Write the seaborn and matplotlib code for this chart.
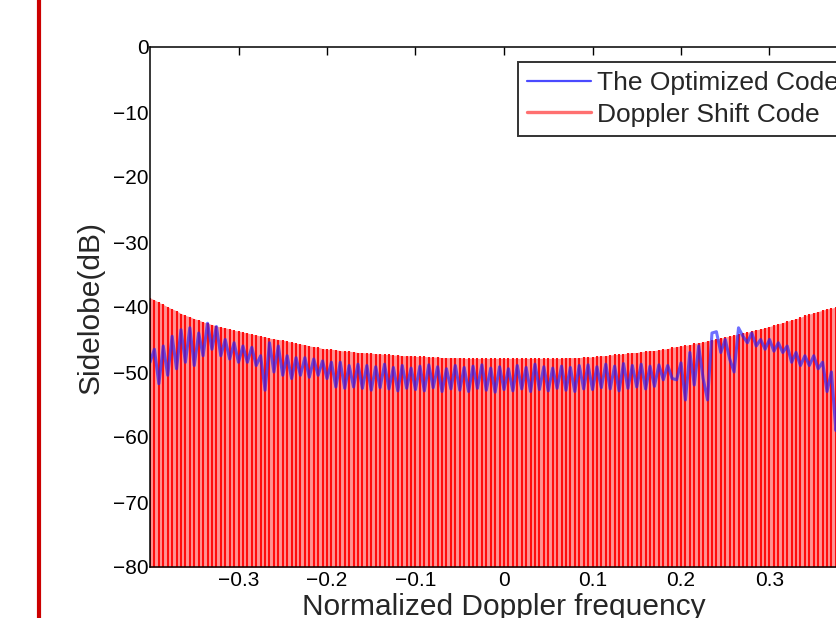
import numpy as np
import pandas as pd
import seaborn as sns
import matplotlib.pyplot as plt
from matplotlib.lines import Line2D

# normalized Doppler frequency grid, step 0.005 from -0.4 to 0.4
freq = np.round(np.linspace(-0.4, 0.4, 161), 3)

# Doppler Shift Code: sidelobe peak envelope (dB)
doppler_shift = [
    -38.6, -38.9, -39.3, -39.6, -40.0, -40.3, -40.6, -41.0, -41.3, -41.5,
    -41.8, -42.0, -42.3, -42.5, -42.7, -42.9, -43.1, -43.2, -43.4, -43.6,
    -43.7, -43.9, -44.0, -44.2, -44.3, -44.5, -44.6, -44.8, -44.9, -45.0,
    -45.1, -45.3, -45.4, -45.6, -45.7, -45.8, -46.0, -46.1, -46.2, -46.4,
    -46.5, -46.5, -46.6, -46.7, -46.8, -46.8, -46.9, -47.0, -47.0, -47.1,
    -47.1, -47.2, -47.2, -47.3, -47.3, -47.4, -47.4, -47.5, -47.5, -47.5,
    -47.6, -47.6, -47.6, -47.7, -47.7, -47.7, -47.8, -47.8, -47.8, -47.8,
    -47.8, -47.9, -47.9, -47.9, -47.9, -47.9, -47.9, -47.9, -47.9, -47.9,
    -47.9, -47.9, -47.9, -47.9, -47.9, -47.9, -47.9, -47.9, -47.9, -47.9,
    -47.9, -47.9, -47.9, -47.9, -47.8, -47.8, -47.8, -47.8, -47.7, -47.7,
    -47.7, -47.6, -47.5, -47.5, -47.4, -47.3, -47.3, -47.2, -47.1, -47.0,
    -47.0, -46.9, -46.8, -46.7, -46.7, -46.6, -46.5, -46.4, -46.2, -46.1,
    -46.0, -45.9, -45.8, -45.6, -45.5, -45.4, -45.2, -45.1, -44.9, -44.8,
    -44.6, -44.5, -44.3, -44.2, -44.0, -43.9, -43.7, -43.5, -43.4, -43.2,
    -43.0, -42.8, -42.6, -42.4, -42.2, -42.0, -41.8, -41.6, -41.3, -41.1,
    -40.9, -40.7, -40.5, -40.3, -40.2, -40.0, -39.8, -39.6, -39.4, -39.2,
    -39.0,
]

# The Optimized Code: sidelobe (dB)
optimized = [
    -48.5, -46.5, -51.8, -46.0, -50.5, -44.5, -49.5, -43.5, -48.5, -43.2,
    -49.0, -44.0, -47.5, -42.5, -46.5, -43.0, -47.5, -45.0, -48.0, -45.5,
    -48.5, -46.0, -48.5, -46.2, -49.0, -47.5, -52.8, -45.5, -50.0, -46.0,
    -50.5, -47.5, -51.0, -47.8, -50.5, -47.8, -50.8, -48.0, -50.5, -48.3,
    -51.0, -48.5, -52.3, -48.5, -52.5, -49.0, -52.3, -48.8, -52.5, -49.0,
    -52.8, -49.2, -52.4, -48.8, -52.6, -49.3, -52.9, -49.0, -52.5, -49.4,
    -52.7, -49.1, -52.9, -48.9, -52.4, -49.2, -53.0, -49.5, -52.6, -49.0,
    -52.8, -49.3, -53.0, -49.1, -52.5, -48.9, -52.8, -49.4, -53.1, -49.2,
    -52.7, -49.5, -52.9, -49.0, -52.6, -49.3, -53.0, -48.8, -52.7, -49.2,
    -52.9, -49.4, -52.5, -49.1, -52.8, -49.3, -53.0, -49.0, -52.6, -48.9,
    -52.7, -49.2, -52.4, -48.8, -52.6, -49.1, -52.9, -48.7, -52.5, -49.0,
    -52.3, -48.8, -52.6, -49.1, -52.2, -48.9, -51.2, -49.0, -51.0, -51.2,
    -48.6, -54.3, -47.0, -52.0, -46.0, -51.0, -54.3, -44.0, -43.8, -47.0,
    -45.0, -48.0, -50.0, -43.2, -44.5, -45.5, -44.0, -46.0, -45.0, -46.5,
    -45.0, -46.8, -45.5, -47.0, -46.0, -48.5, -47.0, -49.0, -47.5, -49.0,
    -47.5, -49.5, -48.5, -53.0, -50.0, -59.0, -55.0, -58.0, -52.0, -55.0,
    -50.0,
]

df = pd.DataFrame({"freq": freq, "doppler": doppler_shift, "optimized": optimized})

sns.set_style("white")
plt.rcParams["font.family"] = ["Liberation Sans", "DejaVu Sans"]

fig = plt.figure(figsize=(8.36, 6.18), dpi=100)
ax = fig.add_axes([150 / 836, 51 / 618, 708 / 836, 520 / 618])

# red code drawn as dense strokes from the floor up to its sidelobe level
ax.fill_between(df["freq"], df["doppler"], -85, color="#ff9494", lw=0)
ax.vlines(df["freq"], -85, df["doppler"], color="#ff0d0d", lw=1.5)

sns.lineplot(data=df, x="freq", y="optimized", ax=ax, color="#2020ff",
             alpha=0.65, lw=2.2, sort=False, estimator=None)

ax.set_xlim(-0.4, 0.4)
ax.set_ylim(-80, 0)
ax.set_xticks([-0.3, -0.2, -0.1, 0, 0.1, 0.2, 0.3])
ax.set_xticklabels(["\u22120.3", "\u22120.2", "\u22120.1", "0", "0.1", "0.2", "0.3"])
ax.set_yticks(range(-80, 1, 10))
ax.tick_params(direction="in", length=6, width=1, top=True, right=True,
               labelsize=15, colors="black", pad=3)
ax.tick_params(axis="y", pad=1)
for s in ax.spines.values():
    s.set_color("black")
    s.set_linewidth(1.1)

ax.set_xlabel("Normalized Doppler frequency", fontsize=21.5, labelpad=2)
ax.set_ylabel("Sidelobe(dB)", fontsize=21.5, labelpad=6)

handles = [Line2D([], [], color="#4a4aff", lw=1.6),
           Line2D([], [], color="#ff7070", lw=2.4)]
leg = fig.legend(handles, ["The Optimized Code", "Doppler Shift Code"],
                 loc="upper left", bbox_to_anchor=(518 / 836, 1 - 62 / 618),
                 fontsize=19, frameon=True, fancybox=False, borderpad=0.35,
                 handlelength=2.4, handletextpad=0.25, labelspacing=0.28,
                 borderaxespad=0)
leg.get_frame().set_edgecolor("black")
leg.get_frame().set_linewidth(1.4)

# red border line at the left of the crop
fig.add_artist(Line2D([39 / 836, 39 / 836], [0, 1], transform=fig.transFigure,
                      color="#cc0000", lw=3))

fig.savefig("out.png", dpi=100)
